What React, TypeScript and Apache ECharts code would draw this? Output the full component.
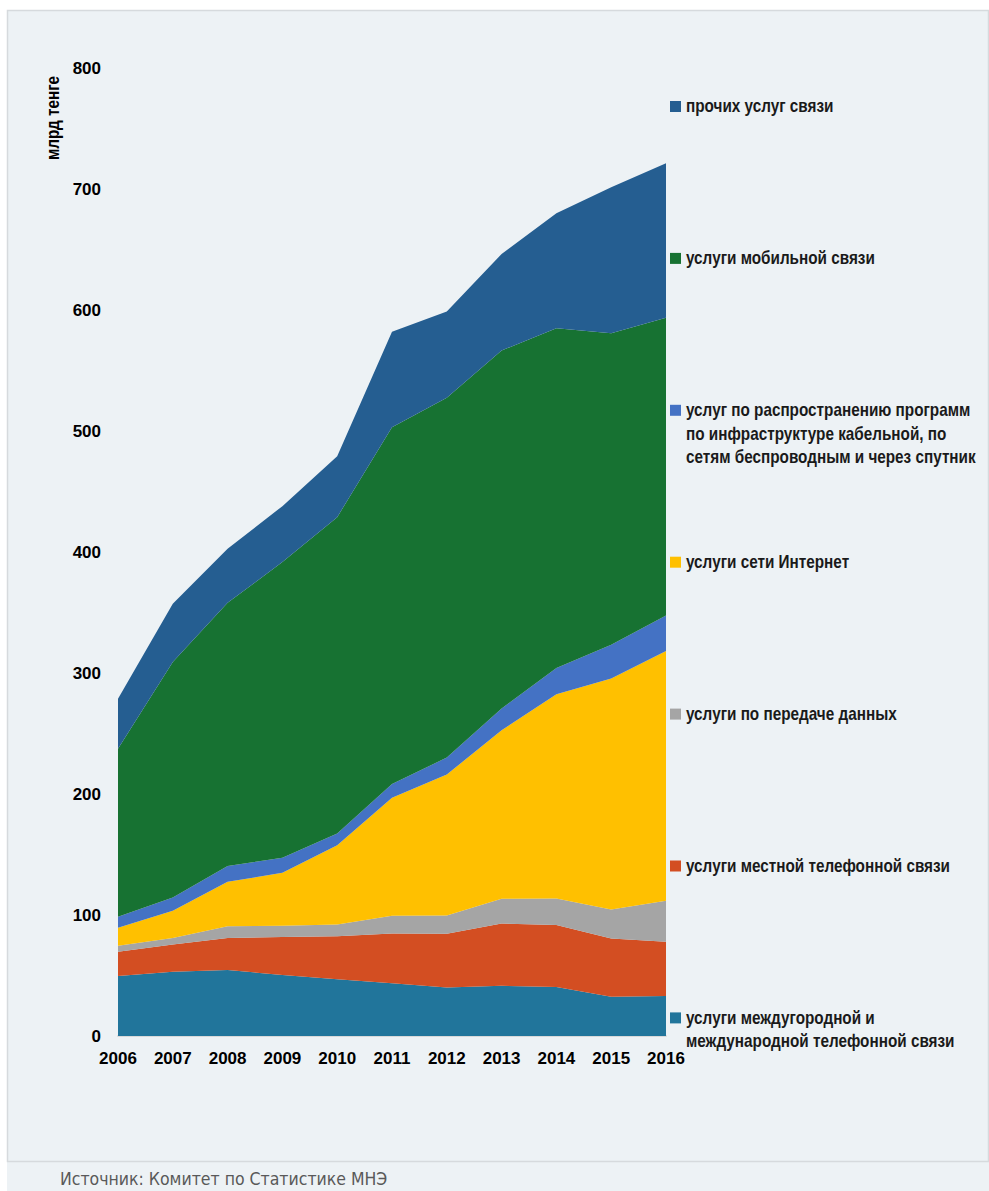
import React, { useEffect, useRef } from "react";
import * as echarts from "echarts";

const years = ["2006", "2007", "2008", "2009", "2010", "2011", "2012", "2013", "2014", "2015", "2016"];

// stacked bottom -> top
const seriesNames = [
  "услуги междугородной и\nмеждународной телефонной связи",
  "услуги местной телефонной связи",
  "услуги по передаче данных",
  "услуги сети Интернет",
  "услуг по распространению программ\nпо инфраструктуре кабельной, по\nсетям беспроводным и через спутник",
  "услуги мобильной связи",
  "прочих услуг связи",
];
const longDistance = [49.5, 53, 54.5, 50.5, 47, 43.5, 40, 41.5, 40.5, 32.5, 33];
const local = [20.1, 22.7, 26.4, 31.3, 35.4, 41.3, 44.5, 51.5, 51.2, 48.1, 44.8];
const dataTransfer = [5, 5.3, 9.9, 9.3, 9.8, 14.5, 15.1, 20.4, 22, 24, 33.9];
const internet = [14.8, 22.5, 36.6, 43.8, 65.5, 97.7, 116.5, 139.3, 168.7, 190.8, 206.5];
const broadcasting = [9.1, 11, 13, 12.4, 9.7, 11.3, 14, 17.9, 21.7, 28, 29.4];
const mobile = [139, 194.6, 217.6, 244.4, 261.4, 294.7, 297.3, 295.9, 280.8, 257.4, 245.9];
const other = [41.3, 48.2, 44.7, 46.2, 50.4, 79, 71.3, 79.8, 95, 120.6, 127.7];

const seriesValues = [longDistance, local, dataTransfer, internet, broadcasting, mobile, other];
const colors = ["#21759B", "#D34E22", "#A5A5A5", "#FFC000", "#4472C4", "#177232", "#255E91"];

const yAxisTitle = "млрд тенге";
const sourceText = "Источник: Комитет по Статистике МНЭ";

const W = 989;
const H = 1191;
const FONT = "'Liberation Sans', Arial, sans-serif";
const CONDENSE = 0.85;

export default function App() {
  const ref = useRef<HTMLDivElement>(null);
  useEffect(() => {
    if (!ref.current) return;
    const chart = echarts.init(ref.current, null, { renderer: "svg" });

    const legendTop = 106.5;
    const legendStep = 151.9;
    const lineH = 23.3;
    const legendGraphics: any[] = [];
    const order = [...seriesNames.keys()].reverse();
    order.forEach((si, i) => {
      const cy = legendTop + i * legendStep;
      legendGraphics.push({
        type: "rect",
        shape: { x: 670, y: cy - 5.5, width: 11, height: 11 },
        style: { fill: colors[si] },
        z: 10,
      });
      legendGraphics.push({
        type: "text",
        x: 686,
        y: cy - lineH / 2,
        scaleX: CONDENSE,
        style: {
          text: seriesNames[si],
          fontFamily: FONT,
          fontSize: 18,
          fontWeight: "bold",
          fill: "#1a1a1a",
          lineHeight: lineH,
          verticalAlign: "top",
          align: "left",
        },
        z: 10,
      });
    });

    chart.setOption({
      animation: false,
      backgroundColor: "#ffffff",
      grid: { left: 118, right: W - 666, top: 68, bottom: H - 1036, containLabel: false },
      xAxis: {
        type: "category",
        data: years,
        boundaryGap: false,
        axisTick: { show: false },
        axisLine: { show: true, lineStyle: { color: "#D9D9D9", width: 2 } },
        axisLabel: { color: "#000", fontFamily: FONT, fontSize: 17, fontWeight: "bold", margin: 14, interval: 0 },
        splitLine: { show: false },
      },
      yAxis: {
        type: "value",
        min: 0,
        max: 800,
        interval: 100,
        axisLine: { show: false },
        axisTick: { show: false },
        splitLine: { show: false },
        axisLabel: { color: "#000", fontFamily: FONT, fontSize: 17, fontWeight: "bold", margin: 17 },
      },
      series: seriesValues.map((vals, i) => ({
        name: seriesNames[i],
        type: "line",
        stack: "total",
        data: vals,
        symbol: "none",
        lineStyle: { width: 0 },
        color: colors[i],
        areaStyle: { color: colors[i], opacity: 1 },
      })),
      graphic: [
        {
          type: "rect",
          shape: { x: 7, y: 10, width: W - 7, height: H - 10 },
          style: { fill: "#EDF2F5", stroke: "none" },
          z: -10,
          silent: true,
        },
        {
          type: "rect",
          shape: { x: 7.5, y: 10.5, width: W - 8, height: 1151 },
          style: { fill: "none", stroke: "#D6DADD", lineWidth: 1.5 },
          z: -9,
          silent: true,
        },
        {
          type: "text",
          x: 53,
          y: 118,
          rotation: Math.PI / 2,
          scaleX: CONDENSE,
          style: {
            text: yAxisTitle,
            fontFamily: FONT,
            fontSize: 18,
            fontWeight: "bold",
            fill: "#000",
            align: "center",
            verticalAlign: "middle",
          },
        },
        {
          type: "text",
          x: 60,
          y: 1179.5,
          scaleX: 0.9,
          style: {
            text: sourceText,
            fontFamily: "'DejaVu Sans', sans-serif",
            fontSize: 17.5,
            fill: "#595959",
            align: "left",
            verticalAlign: "middle",
          },
        },
        ...legendGraphics,
      ],
    });
    return () => chart.dispose();
  }, []);
  return <div ref={ref} style={{ position: "absolute", left: 0, top: 0, width: W, height: H }} />;
}
